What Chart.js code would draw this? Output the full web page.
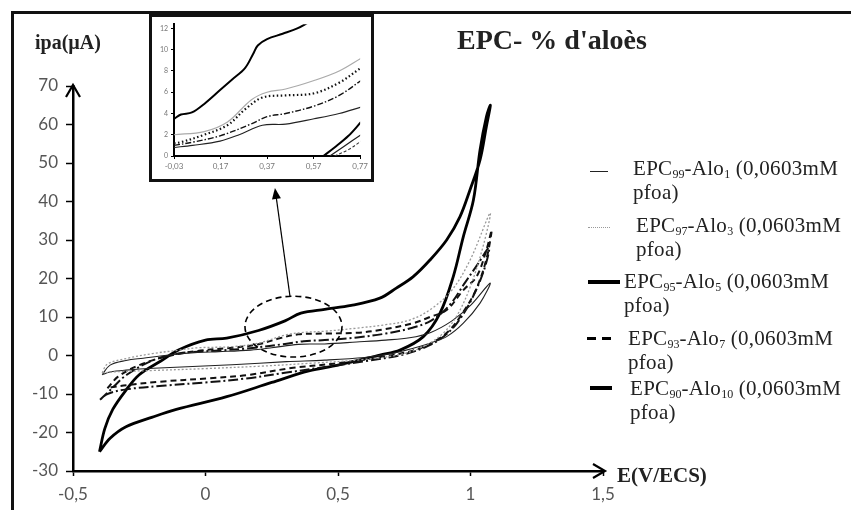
<!DOCTYPE html>
<html>
<head>
<meta charset="utf-8">
<script src="https://cdn.jsdelivr.net/npm/chart.js@4.4.1/dist/chart.umd.min.js"></script>
<style>
  html, body { margin: 0; padding: 0; background: #fff; }
  #wrap { position: relative; width: 851px; height: 510px; overflow: hidden; background: #fff; }
  #main { position: absolute; left: 0; top: 0; }
  .frame { position: absolute; left: 11px; top: 11px; width: 860px; height: 520px;
           border-left: 3px solid #111; border-top: 3px solid #111; }
  .inset { position: absolute; left: 149px; top: 14px; width: 219px; height: 162px;
           border: 3px solid #111; background: #fff; }
  .inset canvas { display: block; }
  .txt { position: absolute; font-family: "Liberation Serif", "Times New Roman", serif;
         color: #222; white-space: nowrap; }
  .bold { font-weight: bold; }
  .leg { font-size: 21px; line-height: 24px; letter-spacing: 0.3px; }
  .leg sub { font-size: 12px; vertical-align: -3px; line-height: 0; letter-spacing: 0; }
  .mk { position: absolute; }
</style>
</head>
<body>
<div id="wrap">
  <canvas id="main" width="851" height="510"></canvas>
  <div class="frame"></div>
  <div class="inset"><canvas id="zoom" width="219" height="162"></canvas></div>

  <div class="txt bold" style="left:35px; top:31px; font-size:20px;">ipa(µA)</div>
  <div class="txt bold" style="left:457px; top:24px; font-size:28px;">EPC- % d'aloès</div>
  <div class="txt bold" style="left:617px; top:463px; font-size:21px;">E(V/ECS)</div>

  <div class="mk" style="left:590px; top:171px; width:18px; height:0; border-top:1.3px solid #222;"></div>
  <div class="txt leg" style="left:633px; top:156px;">EPC<sub>99</sub>-Alo<sub>1</sub> (0,0603mM<br>pfoa)</div>

  <div class="mk" style="left:588px; top:227px; width:22px; height:0; border-top:1.5px dotted #999;"></div>
  <div class="txt leg" style="left:636px; top:213px;">EPC<sub>97</sub>-Alo<sub>3</sub> (0,0603mM<br>pfoa)</div>

  <div class="mk" style="left:588px; top:280px; width:32px; height:3.5px; background:#000;"></div>
  <div class="txt leg" style="left:624px; top:269px;">EPC<sub>95</sub>-Alo<sub>5</sub> (0,0603mM<br>pfoa)</div>

  <div class="mk" style="left:587px; top:337px; width:24px; height:2.5px; background:repeating-linear-gradient(90deg, #000 0 9px, transparent 9px 15px);"></div>
  <div class="txt leg" style="left:628px; top:326px;">EPC<sub>93</sub>-Alo<sub>7</sub> (0,0603mM<br>pfoa)</div>

  <div class="mk" style="left:590px; top:386px; width:22px; height:3.5px; background:#000;"></div>
  <div class="txt leg" style="left:630px; top:376px;">EPC<sub>90</sub>-Alo<sub>10</sub> (0,0603mM<br>pfoa)</div>
</div>

<script>
// main axes
const xTicks = [-0.5, 0, 0.5, 1, 1.5];
const yTicks = [-30, -20, -10, 0, 10, 20, 30, 40, 50, 60, 70];

// cyclic voltammograms: potential E (V/ECS) and current ipa (µA)
const epc99E = [-0.39, -0.36, -0.30, -0.235, -0.13, -0.03, 0.05, 0.17, 0.25, 0.35, 0.45, 0.57, 0.68, 0.77, 0.85, 0.93, 1.00, 1.074,
                1.036, 0.973, 0.91, 0.847, 0.784, 0.70, 0.60, 0.45, 0.306, 0.10, -0.197, -0.30, -0.36, -0.39];
const epc99I = [-5.0, -2.5, -1.3, -0.7, 0.2, 0.8, 1.0, 1.4, 2.0, 2.9, 3.0, 3.5, 4.0, 4.6, 6.0, 9.0, 13.0, 18.8,
                13.6, 8.4, 4.9, 3.2, 1.9, 0.5, -0.5, -1.2, -1.6, -2.4, -3.3, -3.8, -4.3, -5.0];

const epc97E = [-0.39, -0.37, -0.30, -0.20, -0.10, -0.03, 0.10, 0.20, 0.30, 0.37, 0.45, 0.57, 0.68, 0.77, 0.85, 0.93, 1.00, 1.074,
                1.05, 1.00, 0.95, 0.90, 0.84, 0.75, 0.60, 0.40, 0.20, 0.00, -0.20, -0.33, -0.39];
const epc97I = [-4.5, -2.2, -0.8, 0.5, 1.4, 2.0, 2.3, 3.2, 5.3, 6.0, 6.3, 7.1, 8.0, 9.2, 12.0, 17.0, 25.0, 37.0,
                29.0, 18.0, 10.5, 6.0, 3.0, 0.5, -1.0, -2.0, -2.8, -3.4, -3.9, -4.2, -4.5];

const epc95E = [-0.40, -0.38, -0.35, -0.30, -0.25, -0.17, -0.10, 0.00, 0.08, 0.20, 0.30, 0.36, 0.45, 0.55, 0.658, 0.72, 0.784, 0.847, 0.91, 0.96, 0.998, 1.036, 1.06, 1.075,
                1.06, 1.036, 1.011, 0.973, 0.935, 0.885, 0.822, 0.734, 0.658, 0.50, 0.39, 0.25, 0.08, -0.11, -0.20, -0.30, -0.36, -0.40];
const epc95I = [-25, -19, -14, -9, -5, -1.5, 1.5, 4, 4.5, 6.5, 9, 11, 12, 13, 14.9, 17.5, 20.5, 24.8, 30, 36, 43, 50.8, 59.5, 65,
                62, 53.4, 40.4, 30.9, 20.5, 11, 4.9, 1.4, 0.1, -2.5, -4, -7, -10.7, -14, -16, -18.5, -21.5, -25];

const epc93E = [-0.37, -0.33, -0.25, -0.15, -0.03, 0.10, 0.20, 0.276, 0.35, 0.45, 0.57, 0.658, 0.784, 0.847, 0.91, 0.973, 1.023, 1.06, 1.08,
                1.06, 1.02, 0.97, 0.92, 0.86, 0.78, 0.65, 0.50, 0.331, 0.155, 0.017, -0.172, -0.297, -0.35, -0.37];
const epc93I = [-8.5, -5.5, -2.5, -0.3, 1.2, 2.0, 2.9, 4.4, 5.5, 5.7, 5.9, 6.6, 8.4, 10.0, 11.8, 17.0, 20.5, 27.4, 32.6,
                25, 17, 11, 6.5, 3.5, 1.2, -0.5, -2.0, -3.2, -5.1, -5.9, -6.8, -7.7, -8.2, -8.5];

const epc90E = [-0.398, -0.36, -0.297, -0.197, -0.096, -0.03, 0.05, 0.168, 0.30, 0.37, 0.45, 0.572, 0.68, 0.774, 0.85, 0.92, 0.98, 1.03, 1.07,
                1.05, 1.00, 0.95, 0.90, 0.84, 0.75, 0.60, 0.45, 0.30, 0.15, 0.00, -0.15, -0.30, -0.37, -0.398];
const epc90I = [-11.5, -9, -5, -1.2, 0.6, 1.0, 1.3, 1.9, 3.0, 3.7, 4.0, 4.7, 5.7, 7.1, 9, 13, 19, 24, 28,
                22, 14, 8.5, 5, 2.5, 0.3, -1.5, -3, -4.5, -6, -7, -7.8, -8.8, -10, -11.5];

// zoomed region (inset)
const insetXTicks = [-0.03, 0.17, 0.37, 0.57, 0.77];
const insetYTicks = [0, 2, 4, 6, 8, 10, 12];
const ins95E = [-0.03, 0.0, 0.047, 0.10, 0.168, 0.22, 0.276, 0.31, 0.33, 0.37, 0.437, 0.50, 0.55];
const ins95I = [3.5, 3.9, 4.1, 4.9, 6.2, 7.2, 8.3, 9.6, 10.4, 11.0, 11.5, 12.0, 12.6];
const ins97E = [-0.03, 0.10, 0.20, 0.303, 0.37, 0.45, 0.572, 0.68, 0.774];
const ins97I = [2.0, 2.3, 3.2, 5.3, 6.0, 6.3, 7.1, 8.0, 9.2];
const ins93E = [-0.03, 0.0, 0.10, 0.20, 0.276, 0.35, 0.45, 0.572, 0.68, 0.774];
const ins93I = [1.2, 1.3, 2.0, 2.9, 4.4, 5.5, 5.7, 5.9, 6.9, 8.3];
const ins90E = [-0.03, 0.05, 0.168, 0.30, 0.37, 0.45, 0.572, 0.68, 0.774];
const ins90I = [1.0, 1.3, 1.9, 3.0, 3.7, 4.0, 4.7, 5.7, 7.1];
const ins99E = [-0.03, 0.05, 0.168, 0.25, 0.35, 0.45, 0.572, 0.68, 0.774];
const ins99I = [0.8, 1.0, 1.4, 2.0, 2.9, 3.0, 3.5, 4.0, 4.6];
const insRetAE = [0.612, 0.66, 0.72, 0.774];
const insRetAI = [0, 0.8, 1.9, 3.2];
const insRetBE = [0.64, 0.70, 0.774];
const insRetBI = [0, 0.9, 2.0];
const insRetCE = [0.66, 0.72, 0.774];
const insRetCI = [0, 0.6, 1.4];

// dashed ellipse (centre, radii) and pointer arrow, in data units
const ellipseC = [0.332, 7.5];
const ellipseR = [0.183, 7.9];
const pointerFrom = [0.319, 15.3];
const pointerTo = [0.262, 43.5];

function pts(es, is) {
  return es.map((e, k) => ({ x: e, y: is[k] }));
}

function comma(v) {
  return String(Number(v.toFixed(2))).replace(".", ",");
}

function line(data, color, width, dash) {
  return {
    data: data,
    showLine: true,
    borderColor: color,
    borderWidth: width,
    borderDash: dash || [],
    pointRadius: 0,
    tension: 0.35,
    fill: false,
  };
}

const decor = {
  id: "decor",
  afterDraw(chart) {
    const { ctx, chartArea: a, scales: { x, y } } = chart;
    ctx.save();
    ctx.strokeStyle = "#000";
    ctx.lineWidth = 2.2;
    // axis arrow heads
    ctx.beginPath();
    ctx.moveTo(a.left - 7, a.top + 11);
    ctx.lineTo(a.left, a.top - 1);
    ctx.lineTo(a.left + 7, a.top + 11);
    ctx.stroke();
    ctx.beginPath();
    ctx.moveTo(a.right - 10, a.bottom - 7);
    ctx.lineTo(a.right + 2, a.bottom);
    ctx.lineTo(a.right - 10, a.bottom + 7);
    ctx.stroke();

    // dashed ellipse around the zoomed region
    const cx = x.getPixelForValue(ellipseC[0]);
    const cy = y.getPixelForValue(ellipseC[1]);
    const rx = x.getPixelForValue(ellipseC[0] + ellipseR[0]) - cx;
    const ry = cy - y.getPixelForValue(ellipseC[1] + ellipseR[1]);
    ctx.setLineDash([6, 4]);
    ctx.lineWidth = 1.6;
    ctx.beginPath();
    ctx.ellipse(cx, cy, rx, ry, 0, 0, Math.PI * 2);
    ctx.stroke();

    // pointer to the inset
    const x0 = x.getPixelForValue(pointerFrom[0]), y0 = y.getPixelForValue(pointerFrom[1]);
    const x1 = x.getPixelForValue(pointerTo[0]), y1 = y.getPixelForValue(pointerTo[1]);
    const ang = Math.atan2(y1 - y0, x1 - x0);
    ctx.setLineDash([]);
    ctx.lineWidth = 1.2;
    ctx.beginPath();
    ctx.moveTo(x0, y0);
    ctx.lineTo(x1 - 9 * Math.cos(ang), y1 - 9 * Math.sin(ang));
    ctx.stroke();
    ctx.fillStyle = "#000";
    ctx.beginPath();
    ctx.moveTo(x1, y1);
    ctx.lineTo(x1 - 11 * Math.cos(ang) + 4.5 * Math.sin(ang), y1 - 11 * Math.sin(ang) - 4.5 * Math.cos(ang));
    ctx.lineTo(x1 - 11 * Math.cos(ang) - 4.5 * Math.sin(ang), y1 - 11 * Math.sin(ang) + 4.5 * Math.cos(ang));
    ctx.closePath();
    ctx.fill();
    ctx.restore();
  },
};

new Chart(document.getElementById("main"), {
  type: "scatter",
  data: {
    datasets: [
      line(pts(epc97E, epc97I), "#9a9a9a", 1.3, [2, 2]),
      line(pts(epc99E, epc99I), "#222", 1.1),
      line(pts(epc90E, epc90I), "#111", 2.0, [10, 3, 2, 3]),
      line(pts(epc93E, epc93I), "#111", 2.0, [6, 4]),
      line(pts(epc95E, epc95I), "#000", 2.8),
    ],
  },
  options: {
    responsive: false,
    animation: false,
    layout: { padding: { left: 0, top: 86, right: 248, bottom: 0 } },
    plugins: { legend: { display: false }, tooltip: { enabled: false } },
    scales: {
      x: {
        type: "linear",
        min: -0.5,
        max: 1.5,
        afterBuildTicks: (s) => { s.ticks = xTicks.map((v) => ({ value: v })); },
        afterFit: (s) => { s.height = 39; },
        ticks: { color: "#555", font: { family: "Lato", size: 17 }, padding: 8, callback: (v) => comma(v) },
        grid: { drawOnChartArea: false, drawTicks: true, tickLength: 5, tickColor: "#000", tickWidth: 1.5 },
        border: { color: "#000", width: 2.5 },
      },
      y: {
        type: "linear",
        min: -30,
        max: 70,
        afterBuildTicks: (s) => { s.ticks = yTicks.map((v) => ({ value: v })); },
        afterFit: (s) => { s.width = 73; },
        ticks: { color: "#555", font: { family: "Lato", size: 17 }, padding: 8, callback: (v) => comma(v) },
        grid: { drawOnChartArea: false, drawTicks: true, tickLength: 7, tickColor: "#000", tickWidth: 1.5 },
        border: { color: "#000", width: 2.5 },
      },
    },
  },
  plugins: [decor],
});

new Chart(document.getElementById("zoom"), {
  type: "scatter",
  data: {
    datasets: [
      line(pts(ins97E, ins97I), "#aaa", 1.2),
      line(pts(ins99E, ins99I), "#222", 1.1),
      line(pts(ins90E, ins90I), "#111", 1.4, [6, 2, 1.5, 2]),
      line(pts(ins93E, ins93I), "#111", 2.2, [1.5, 2.5]),
      line(pts(ins95E, ins95I), "#000", 2.0),
      line(pts(insRetAE, insRetAI), "#000", 2.0),
      line(pts(insRetBE, insRetBI), "#222", 1.3),
      line(pts(insRetCE, insRetCI), "#333", 1.1, [3, 2]),
    ],
  },
  options: {
    responsive: false,
    animation: false,
    layout: { padding: { left: 0, top: 1, right: 0, bottom: 0 } },
    plugins: { legend: { display: false }, tooltip: { enabled: false } },
    scales: {
      x: {
        type: "linear",
        min: -0.03,
        max: 0.77,
        afterBuildTicks: (s) => { s.ticks = insetXTicks.map((v) => ({ value: v })); },
        afterFit: (s) => { s.height = 23; },
        ticks: { color: "#777", font: { family: "Lato", size: 8 }, padding: 3, maxRotation: 0, callback: (v) => comma(v) },
        grid: { drawOnChartArea: false, drawTicks: true, tickLength: 3, tickColor: "#000" },
        border: { color: "#000", width: 2 },
      },
      y: {
        type: "linear",
        min: 0,
        max: 12.4,
        afterBuildTicks: (s) => { s.ticks = insetYTicks.map((v) => ({ value: v })); },
        afterFit: (s) => { s.width = 22; },
        ticks: { color: "#777", font: { family: "Lato", size: 7 }, padding: 3, callback: (v) => comma(v) },
        grid: { drawOnChartArea: false, drawTicks: true, tickLength: 3, tickColor: "#000" },
        border: { color: "#000", width: 2 },
      },
    },
  },
});
</script>
</body>
</html>
